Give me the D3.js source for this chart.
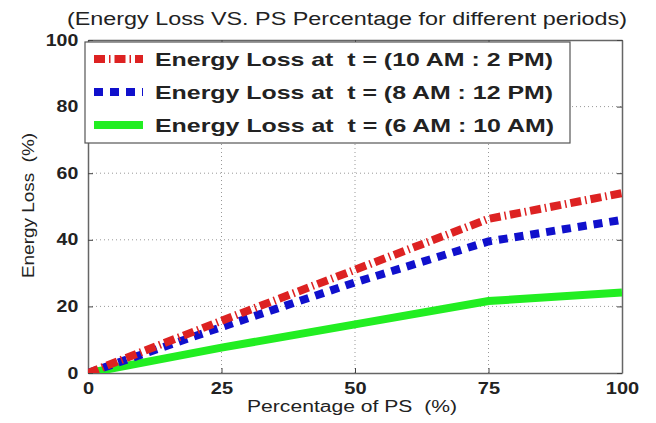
<!DOCTYPE html>
<html><head><meta charset="utf-8">
<script src="https://cdn.jsdelivr.net/npm/d3@7"></script>
<style>body{margin:0;background:#fff}svg{display:block}text{white-space:pre}</style>
</head><body>
<script>
const xValues = [0, 25, 50, 75, 100];
const redLoss = [0, 15.7, 31, 46.3, 54];
const blueLoss = [0, 13.8, 27.2, 39.5, 46];
const greenLoss = [0, 7.6, 14.6, 21.6, 24.2];
const xTicks = [0, 25, 50, 75, 100];
const yTicks = [0, 20, 40, 60, 80, 100];
const legendLabels = ["Energy Loss at  t = (10 AM : 2 PM)", "Energy Loss at  t = (8 AM : 12 PM)", "Energy Loss at  t = (6 AM : 10 AM)"];
const titleText = "(Energy Loss VS. PS Percentage for different periods)";
const xLabel = "Percentage of PS  (%)";
const yLabel = "Energy Loss  (%)";

const W = 656, H = 423;
const m = {left: 88, right: 34, top: 40, bottom: 50};
const svg = d3.select("body").append("svg").attr("width", W).attr("height", H);
const x = d3.scaleLinear().domain([0, 100]).range([m.left, W - m.right]);
const y = d3.scaleLinear().domain([0, 100]).range([H - m.bottom, m.top]);

// grid
const g = svg.append("g");
g.selectAll(".vg").data(xTicks.filter(d => d > 0 && d < 100)).enter().append("line")
  .attr("x1", d => x(d)).attr("x2", d => x(d)).attr("y1", y(0)).attr("y2", y(100))
  .attr("stroke", "#999").attr("stroke-width", 1).attr("stroke-dasharray", "1,3");
g.selectAll(".hg").data(yTicks.filter(d => d > 0 && d < 100)).enter().append("line")
  .attr("y1", d => y(d)).attr("y2", d => y(d)).attr("x1", x(0)).attr("x2", x(100))
  .attr("stroke", "#999").attr("stroke-width", 1).attr("stroke-dasharray", "1,3");

// axes
const font = "Arial, 'Liberation Sans', sans-serif";
const xAxis = svg.append("g").attr("transform", `translate(0,${y(0)})`)
  .call(d3.axisBottom(x).tickValues(xTicks).tickSizeInner(-5).tickSizeOuter(0).tickPadding(9));
const xAxisTop = svg.append("g").attr("transform", `translate(0,${y(100)})`)
  .call(d3.axisTop(x).tickValues(xTicks).tickSizeInner(-5).tickSizeOuter(0).tickFormat(""));
const yAxis = svg.append("g").attr("transform", `translate(${x(0)},0)`)
  .call(d3.axisLeft(y).tickValues(yTicks).tickSizeInner(-5).tickSizeOuter(0).tickPadding(8));
const yAxisR = svg.append("g").attr("transform", `translate(${x(100)},0)`)
  .call(d3.axisRight(y).tickValues(yTicks).tickSizeInner(-5).tickSizeOuter(0).tickFormat(""));
[xAxis, xAxisTop, yAxis, yAxisR].forEach(a => {
  a.select(".domain").attr("stroke", "#666").attr("stroke-width", 1.5);
  a.selectAll(".tick line").attr("stroke", "#444");
  a.selectAll("text").attr("font-family", font).attr("font-size", 16).attr("font-weight", "bold").attr("fill", "#222");
});
xAxis.selectAll("text").attr("dy", "0.72em").attr("transform", "scale(1.25,1)");
yAxis.selectAll("text").attr("transform", "scale(1.22,1)");

// lines
const line = d3.line().x((d, i) => x(xValues[i])).y(d => y(d));
const series = [
  {data: greenLoss, color: "#22ee22", dash: null},
  {data: blueLoss, color: "#1010cc", dash: "9,7"},
  {data: redLoss, color: "#dd2222", dash: "11,4,1.5,4"}
];
svg.append("clipPath").attr("id", "clip").append("rect")
  .attr("x", x(0)).attr("y", y(100)).attr("width", x(100) - x(0)).attr("height", y(0) - y(100));
svg.append("g").attr("clip-path", "url(#clip)").selectAll("path").data(series).enter().append("path")
  .attr("d", d => line(d.data)).attr("fill", "none").attr("stroke", d => d.color)
  .attr("stroke-width", 8).attr("stroke-dasharray", d => d.dash);

// legend
const lg = svg.append("g");
lg.append("rect").attr("x", 85).attr("y", 42).attr("width", 485).attr("height", 101)
  .attr("fill", "#fff").attr("stroke", "#555").attr("stroke-width", 1.2);
const legSeries = [series[2], series[1], series[0]];
const legY = [59, 92, 125];
legSeries.forEach((s, i) => {
  lg.append("line").attr("x1", 94).attr("x2", 143).attr("y1", legY[i]).attr("y2", legY[i])
    .attr("stroke", s.color).attr("stroke-width", 8).attr("stroke-dasharray", s.dash);
  lg.append("text").attr("x", 155).attr("y", legY[i]).attr("dy", "0.36em")
    .attr("font-family", font).attr("font-size", 19).attr("font-weight", "bold").attr("fill", "#222")
    .attr("textLength", i === 2 ? 399 : 398).attr("lengthAdjust", "spacingAndGlyphs")
    .text(legendLabels[i]);
});

// titles
svg.append("text").attr("x", 67).attr("y", 25)
  .attr("font-family", font).attr("font-size", 18).attr("fill", "#222")
  .attr("textLength", 560).attr("lengthAdjust", "spacingAndGlyphs").text(titleText);
svg.append("text").attr("x", 247).attr("y", 412)
  .attr("font-family", font).attr("font-size", 16).attr("fill", "#222")
  .attr("textLength", 210).attr("lengthAdjust", "spacingAndGlyphs").text(xLabel);
svg.append("text").attr("transform", `translate(34,278) rotate(-90)`)
  .attr("font-family", font).attr("font-size", 16).attr("fill", "#222")
  .attr("textLength", 145).attr("lengthAdjust", "spacingAndGlyphs").text(yLabel);
</script>
</body></html>
